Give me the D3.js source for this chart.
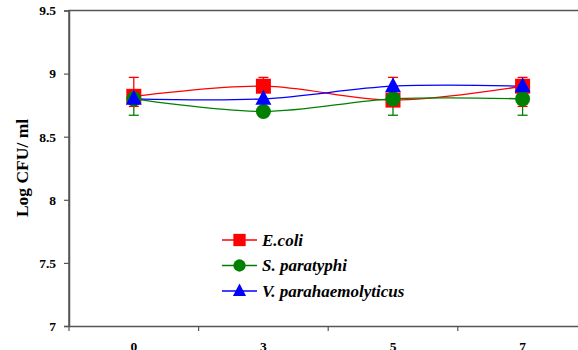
<!DOCTYPE html>
<html>
<head>
<meta charset="utf-8">
<script src="https://cdn.jsdelivr.net/npm/d3@7"></script>
<style>
  body { margin: 0; background: #fff; }
  svg { display: block; font-family: "Liberation Serif", "Times New Roman", serif; }
</style>
</head>
<body>
<svg width="578" height="350"></svg>
<script>
const d3 = window.d3;

// data
const days = ["0", "3", "5", "7"];
const yTicks = [7, 7.5, 8, 8.5, 9, 9.5];
const seriesNames = ["E.coli", "S. paratyphi", "V. parahaemolyticus"];
const ecoli = [8.82, 8.9, 8.79, 8.9];
const paratyphi = [8.8, 8.7, 8.8, 8.8];
const parahaem = [8.8, 8.8, 8.9, 8.9];
const ecoliErrUp = [0.15, 0.07, 0.18, 0.07];
const ecoliErrDown = [0.08, 0, 0, 0.16];
const paratyphiErrUp = [0, 0, 0, 0];
const paratyphiErrDown = [0.13, 0.03, 0.13, 0.13];
const parahaemErrUp = [0, 0, 0, 0];
const parahaemErrDown = [0, 0, 0, 0];

const series = [
  { name: seriesNames[0], values: ecoli, up: ecoliErrUp, down: ecoliErrDown, color: "#ff0000", shape: "square" },
  { name: seriesNames[1], values: paratyphi, up: paratyphiErrUp, down: paratyphiErrDown, color: "#008000", shape: "circle" },
  { name: seriesNames[2], values: parahaem, up: parahaemErrUp, down: parahaemErrDown, color: "#0000ff", shape: "triangle" }
];

const plotLeft = 69, plotTop = 10.5, plotBottom = 326, bandW = 129.6;
const svg = d3.select("svg");

const xScale = d3.scaleBand().domain(days).range([plotLeft, plotLeft + bandW * days.length]);
const yScale = d3.scaleLinear().domain([7, 9.5]).range([plotBottom, plotTop]);

// plot frame (top border, right border falls off the canvas)
svg.append("path")
  .attr("d", `M${plotLeft},${plotBottom}V${plotTop}H${plotLeft + bandW * days.length}V${plotBottom}`)
  .attr("fill", "none")
  .attr("stroke", "#555")
  .attr("stroke-width", 1.5);

// y axis
const yAxis = svg.append("g")
  .attr("transform", `translate(${plotLeft},0)`)
  .call(d3.axisLeft(yScale).tickValues(yTicks).tickSize(5).tickPadding(8).tickFormat(d => d));
yAxis.select(".domain").attr("stroke", "#555").attr("stroke-width", 1.5);
yAxis.selectAll(".tick line").attr("stroke", "#555").attr("stroke-width", 1.2);
yAxis.selectAll("text")
  .attr("font-family", "Liberation Serif")
  .attr("font-weight", "bold")
  .attr("font-size", 13.5)
  .attr("fill", "#000");

// x axis: ticks on band boundaries
const xAxis = svg.append("g")
  .attr("transform", `translate(0,${plotBottom})`)
  .call(d3.axisBottom(xScale).tickSize(0).tickPadding(15));
xAxis.select(".domain").attr("stroke", "#555").attr("stroke-width", 1.5);
xAxis.selectAll("text")
  .attr("font-family", "Liberation Serif")
  .attr("font-weight", "bold")
  .attr("font-size", 13.5)
  .attr("fill", "#000");
xAxis.selectAll(".bnd")
  .data(days)
  .join("line")
  .attr("x1", d => xScale(d))
  .attr("x2", d => xScale(d))
  .attr("y1", 0)
  .attr("y2", 5)
  .attr("stroke", "#555")
  .attr("stroke-width", 1.2);

// y label
svg.append("text")
  .attr("transform", "translate(28,168) rotate(-90)")
  .attr("text-anchor", "middle")
  .attr("font-weight", "bold")
  .attr("font-size", 17.5)
  .text("Log CFU/ ml");

const cx = d => xScale(d) + xScale.bandwidth() / 2;

// error bars
series.forEach(s => {
  const g = svg.append("g").attr("stroke", s.color).attr("stroke-width", 1.3);
  days.forEach((d, i) => {
    const x = cx(d);
    [[s.up[i], 1], [s.down[i], -1]].forEach(([e, sign]) => {
      if (!e) return;
      const y0 = yScale(s.values[i]);
      const y1 = yScale(s.values[i] + sign * e);
      g.append("line").attr("x1", x).attr("x2", x).attr("y1", y0).attr("y2", y1);
      g.append("line").attr("x1", x - 5).attr("x2", x + 5).attr("y1", y1).attr("y2", y1);
    });
  });
});

// smoothed lines
const line = d3.line()
  .x((v, i) => cx(days[i]))
  .y(v => yScale(v))
  .curve(d3.curveCardinal.tension(0));

series.forEach(s => {
  svg.append("path")
    .datum(s.values)
    .attr("d", line)
    .attr("fill", "none")
    .attr("stroke", s.color)
    .attr("stroke-width", 1.3);
});

function drawMarker(g, shape, x, y, color) {
  if (shape === "square") {
    g.append("rect").attr("x", x - 7.5).attr("y", y - 7.5).attr("width", 15).attr("height", 15).attr("fill", color);
  } else if (shape === "circle") {
    g.append("circle").attr("cx", x).attr("cy", y).attr("r", 7.5).attr("fill", color);
  } else {
    g.append("path")
      .attr("d", `M${x},${y - 9}L${x + 8},${y + 6}L${x - 8},${y + 6}Z`)
      .attr("fill", color);
  }
}

// markers
series.forEach(s => {
  const g = svg.append("g");
  s.values.forEach((v, i) => drawMarker(g, s.shape, cx(days[i]), yScale(v), s.color));
});

// legend
const legend = svg.append("g").attr("transform", "translate(222,240)");
series.forEach((s, i) => {
  const g = legend.append("g").attr("transform", `translate(0,${i * 25.5})`);
  g.append("line").attr("x1", 0).attr("x2", 35).attr("y1", 0).attr("y2", 0)
    .attr("stroke", s.color).attr("stroke-width", 1.3);
  const m = g.append("g").attr("transform", "scale(0.82)");
  drawMarker(m, s.shape, 17.5 / 0.82, 0, s.color);
  g.append("text")
    .attr("x", 40)
    .attr("y", 5.5)
    .attr("font-weight", "bold")
    .attr("font-style", "italic")
    .attr("font-size", 17)
    .text(s.name);
});
</script>
</body>
</html>
